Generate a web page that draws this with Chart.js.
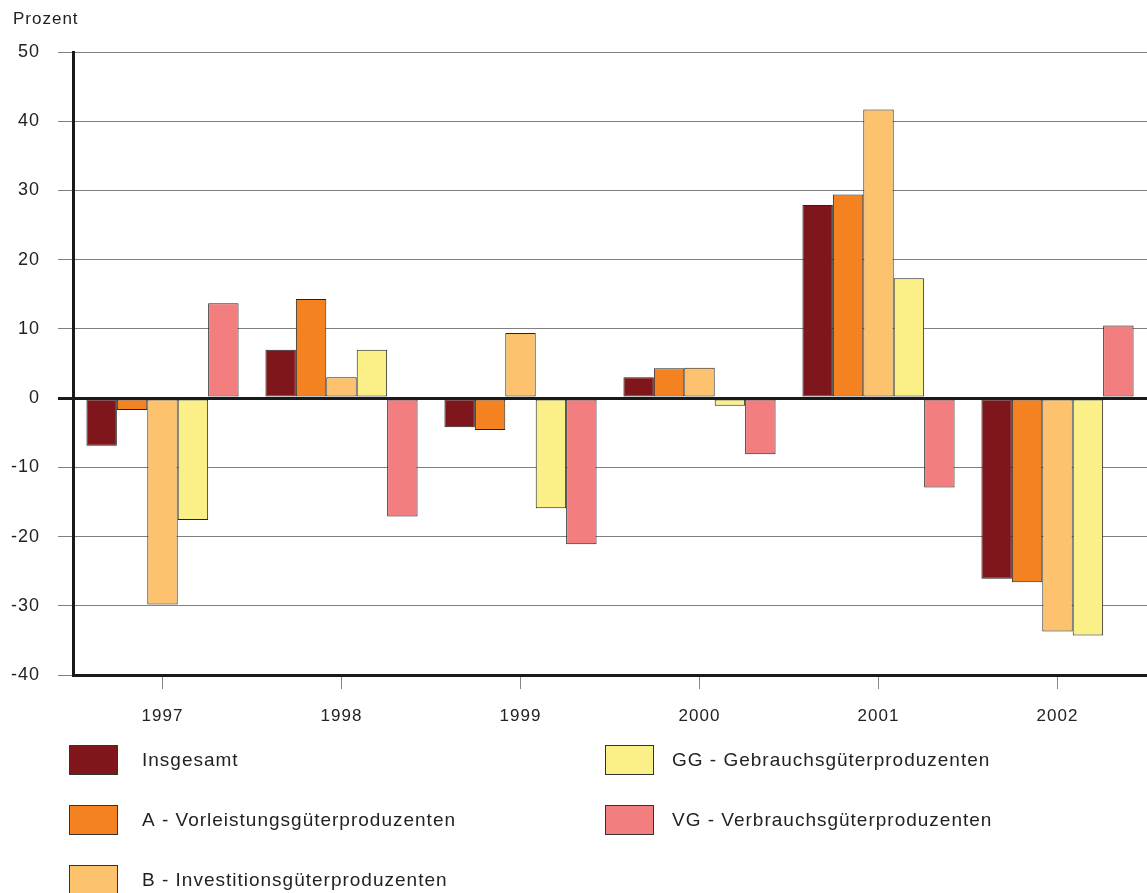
<!DOCTYPE html>
<html>
<head>
<meta charset="utf-8">
<script src="https://cdn.jsdelivr.net/npm/chart.js@4/dist/chart.umd.min.js"></script>
<style>
  html, body { margin: 0; padding: 0; background: #fff; }
  #wrap { width: 1147px; height: 893px; position: relative; }
</style>
</head>
<body>
<div id="wrap"><canvas id="chart"></canvas></div>
<script>
// Daten (Prozent)
const years = ['1997', '1998', '1999', '2000', '2001', '2002'];
const insgesamt = [-6.9, 7.0, -4.2, 3.0, 27.9, -26.1];
const vorleistung = [-1.7, 14.3, -4.6, 4.3, 29.4, -26.6];
const investition = [-29.8, 3.0, 9.4, 4.4, 41.7, -33.7];
const gebrauch = [-17.6, 7.0, -15.9, -1.1, 17.3, -34.3];
const verbrauch = [13.7, -17.1, -21.1, -8.1, -12.9, 10.5];
const yTicks = [-40, -30, -20, -10, 0, 10, 20, 30, 40, 50];

const FONT = '"Liberation Sans", Arial, sans-serif';

function ds(label, data, color) {
  return {
    label: label,
    data: data,
    backgroundColor: color,
    borderColor: '#222',
    borderWidth: 1,
    borderSkipped: false,
    categoryPercentage: 0.85,
    barPercentage: 1.0
  };
}

// etwas Sperrung wie im Original
const spacingPlugin = {
  id: 'spacing',
  beforeDraw(chart) { chart.ctx.letterSpacing = '1px'; }
};

// Legende in zwei Spalten unter dem Diagramm
const legendPlugin = {
  id: 'colLegend',
  afterDraw(chart) {
    const c = chart.ctx;
    const pos = [
      [69, 745, 142], [69, 805, 142], [69, 865, 142],
      [605, 745, 672], [605, 805, 672]
    ];
    c.save();
    c.font = '19px ' + FONT;
    c.letterSpacing = '1px';
    c.textBaseline = 'middle';
    chart.data.datasets.forEach((d, i) => {
      const p = pos[i];
      c.fillStyle = d.backgroundColor;
      c.fillRect(p[0], p[1], 49, 30);
      c.strokeStyle = '#333';
      c.lineWidth = 1;
      c.strokeRect(p[0] + 0.5, p[1] + 0.5, 48, 29);
      c.fillStyle = '#222';
      c.fillText(d.label, p[2], p[1] + 16);
    });
    // Einheit
    c.font = '17px ' + FONT;
    c.letterSpacing = '1px';
    c.textBaseline = 'alphabetic';
    c.fillText('Prozent', 13, 24);
    c.restore();
  }
};

new Chart(document.getElementById('chart'), {
  type: 'bar',
  data: {
    labels: years,
    datasets: [
      ds('Insgesamt', insgesamt, '#7f161b'),
      ds('A - Vorleistungsgüterproduzenten', vorleistung, '#f58220'),
      ds('B - Investitionsgüterproduzenten', investition, '#fdc26d'),
      ds('GG - Gebrauchsgüterproduzenten', gebrauch, '#fbef87'),
      ds('VG - Verbrauchsgüterproduzenten', verbrauch, '#f27e7f')
    ]
  },
  options: {
    responsive: true,
    maintainAspectRatio: false,
    animation: false,
    layout: { padding: { top: 52, right: 0, left: 0, bottom: 0 } },
    plugins: {
      legend: { display: false },
      tooltip: { enabled: false }
    },
    scales: {
      x: {
        grid: {
          offset: false,
          drawOnChartArea: false,
          drawTicks: true,
          tickLength: 14,
          color: '#888'
        },
        border: { display: true, color: '#1a1a1a', width: 3 },
        ticks: { color: '#222', font: { family: FONT, size: 17 }, padding: 17 },
        afterFit(scale) { scale.height = 893 - 675; }
      },
      y: {
        min: -40,
        max: 50,
        afterBuildTicks(scale) { scale.ticks = yTicks.map(v => ({ value: v })); },
        grid: {
          color: ctx => ctx.tick && ctx.tick.value === 0 ? '#1a1a1a' : '#808080',
          lineWidth: ctx => ctx.tick && ctx.tick.value === 0 ? 3 : 1,
          tickLength: 15,
          drawTicks: true
        },
        border: { display: true, color: '#1a1a1a', width: 3 },
        ticks: { color: '#222', font: { family: FONT, size: 18 }, padding: 18 },
        afterFit(scale) { scale.width = 73; }
      }
    }
  },
  plugins: [spacingPlugin, legendPlugin]
});
</script>
</body>
</html>
